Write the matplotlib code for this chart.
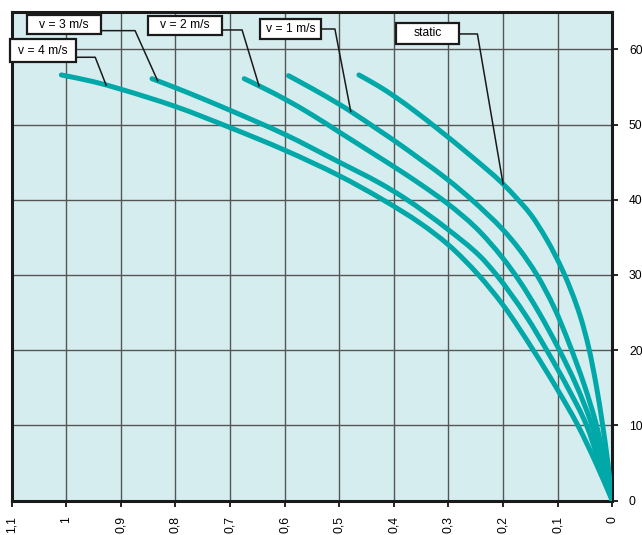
import numpy as np
import matplotlib.pyplot as plt
from matplotlib.patches import Rectangle, PathPatch
from matplotlib.path import Path
from matplotlib.ticker import FuncFormatter, MultipleLocator

plt.rcParams['font.family'] = ['Liberation Sans', 'DejaVu Sans']

# curve data (x runs from right to left on the chart)
static_x = [0.464, 0.43, 0.40, 0.36, 0.321, 0.26, 0.20, 0.175, 0.15, 0.12, 0.0897, 0.059, 0.043, 0.0286, 0.018, 0.008, 0.0]
static_y = [56.6, 55.2, 53.8, 51.7, 49.5, 45.9, 42.1, 40.2, 38.1, 34.7, 30.4, 24.6, 20.3, 15.0, 10.2, 5.0, 0.0]

v1_x = [0.593, 0.55, 0.50, 0.478, 0.4286, 0.40, 0.35, 0.30, 0.2575, 0.20, 0.17, 0.138, 0.106, 0.0775, 0.051, 0.030, 0.014, 0.0]
v1_y = [56.5, 54.8, 52.7, 51.7, 49.3, 47.9, 45.3, 42.6, 40.0, 36.0, 33.4, 30.0, 25.6, 20.6, 15.3, 10.3, 5.3, 0.0]

v2_x = [0.674, 0.64, 0.60, 0.55, 0.50, 0.45, 0.40, 0.35, 0.30, 0.25, 0.20, 0.17, 0.135, 0.099, 0.065, 0.038, 0.018, 0.0]
v2_y = [56.1, 54.9, 53.4, 51.3, 49.0, 46.7, 44.4, 42.0, 39.4, 36.3, 32.2, 29.2, 25.1, 20.3, 15.2, 10.2, 5.2, 0.0]

v3_x = [0.843, 0.80, 0.749, 0.70, 0.60, 0.50, 0.4255, 0.38, 0.30, 0.2423, 0.212, 0.157, 0.12, 0.0806, 0.047, 0.0235, 0.0]
v3_y = [56.1, 54.9, 53.4, 51.9, 48.7, 45.0, 42.2, 40.2, 36.0, 32.5, 30.0, 24.45, 20.0, 14.9, 10.0, 5.0, 0.0]

v4_x = [1.009, 0.95, 0.90, 0.80, 0.70, 0.60, 0.50, 0.42, 0.35, 0.30, 0.245, 0.20, 0.1447, 0.099, 0.063, 0.030, 0.0]
v4_y = [56.6, 55.7, 54.7, 52.4, 49.6, 46.6, 43.2, 40.0, 36.8, 34.0, 30.0, 26.0, 20.0, 14.6, 10.0, 5.0, 0.0]

curves = [(static_x, static_y), (v1_x, v1_y), (v2_x, v2_y), (v3_x, v3_y), (v4_x, v4_y)]
labels = ["static", "v = 1 m/s", "v = 2 m/s", "v = 3 m/s", "v = 4 m/s"]

# label boxes: (left, right, bottom, top), leader height, elbow x, x where leader meets curve
boxes = [(0.396, 0.280, 60.72, 63.55), (0.645, 0.5335, 61.34, 64.04),
         (0.851, 0.714, 61.95, 64.48), (1.0725, 0.937, 62.0, 64.57),
         (1.103, 0.982, 58.29, 61.38)]
leader_y = [62.05, 62.71, 62.58, 62.49, 58.95]
elbow_x = [0.247, 0.508, 0.678, 0.874, 0.947]
touch_x = [0.20, 0.479, 0.647, 0.8326, 0.927]

teal = "#00a8a8"
bg = "#d6edf0"


def smooth_path(xs, ys):
    # monotone cubic (Fritsch-Carlson tangents) written as Bezier segments
    x = np.asarray(xs, float)
    y = np.asarray(ys, float)
    h = np.diff(x)
    d = np.diff(y) / h
    m = np.empty_like(x)
    m[0], m[-1] = d[0], d[-1]
    w1 = 2 * h[1:] + h[:-1]
    w2 = h[1:] + 2 * h[:-1]
    m[1:-1] = (w1 + w2) / (w1 / d[:-1] + w2 / d[1:])
    verts = [(x[0], y[0])]
    codes = [Path.MOVETO]
    for i in range(len(h)):
        verts += [(x[i] + h[i] / 3, y[i] + m[i] * h[i] / 3),
                  (x[i + 1] - h[i] / 3, y[i + 1] - m[i + 1] * h[i] / 3),
                  (x[i + 1], y[i + 1])]
        codes += [Path.CURVE4] * 3
    return Path(verts, codes)


fig = plt.figure(figsize=(6.42, 5.35), dpi=100)
ax = fig.add_axes([0.0182, 0.0643, 0.9355, 0.9137])
ax.set_facecolor(bg)

for xs, ys in curves:
    ax.add_patch(PathPatch(smooth_path(xs, ys), fill=False, edgecolor=teal,
                           lw=3.6, capstyle="round", joinstyle="round", zorder=3))

for (xs, ys), text, (x0, x1, y0, y1), ly, ex, tx in zip(curves, labels, boxes,
                                                       leader_y, elbow_x, touch_x):
    ty = np.interp(tx, xs[::-1], ys[::-1])
    cx = (x0 + x1) / 2
    ax.plot([cx, ex, tx], [ly, ly, ty], color="#1a1a1a", lw=1.1,
            zorder=4, clip_on=False)
    ax.add_patch(Rectangle((x1, y0), x0 - x1, y1 - y0, facecolor="white",
                           edgecolor="#1a1a1a", lw=1.6, zorder=5, clip_on=False))
    ax.text(cx, (y0 + y1) / 2, text, ha="center", va="center",
            fontsize=8.7, zorder=6)

ax.set_xlim(1.1, 0)
ax.set_ylim(0, 65)
ax.xaxis.set_major_locator(MultipleLocator(0.1))
ax.yaxis.set_major_locator(MultipleLocator(10))
ax.xaxis.set_major_formatter(FuncFormatter(
    lambda v, p: ("%g" % round(v, 1)).replace(".", ",")))

ax.grid(True, color="#555555", lw=1.0)
ax.set_axisbelow(True)

ax.yaxis.tick_right()
ax.tick_params(axis="y", direction="out", length=4, width=1.2, pad=8,
               labelsize=8.7)
ax.tick_params(axis="x", direction="out", length=4, width=1.2, pad=7,
               labelsize=8.7, labelrotation=90)

for side in ax.spines.values():
    side.set_linewidth(2.2)
    side.set_color("#1a1a1a")

fig.savefig("out.png", dpi=100, facecolor="white")
